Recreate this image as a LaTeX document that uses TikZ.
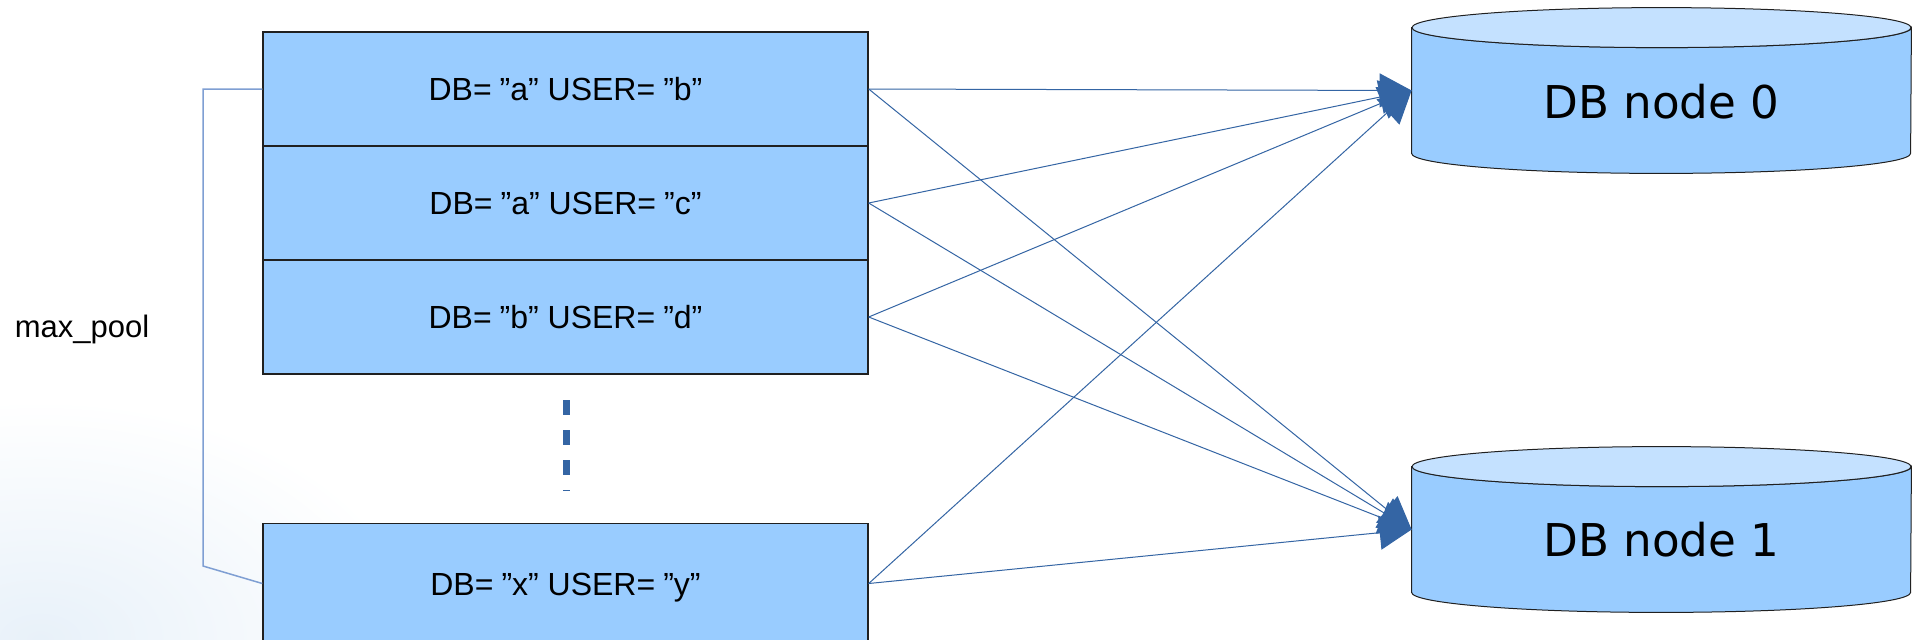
\documentclass[tikz,border=0pt]{standalone}
\usepackage{fontspec}
\setmainfont{Liberation Sans}
\newfontfamily\djv{DejaVu Sans}
\usetikzlibrary{arrows.meta}
\definecolor{boxfill}{HTML}{99CCFF}
\definecolor{topfill}{HTML}{C4E1FF}
\definecolor{linkc}{HTML}{3465A4}
\definecolor{bracketc}{HTML}{7F9FD3}
\definecolor{edgec}{HTML}{202020}
\definecolor{bgc}{HTML}{E8F1F9}
\newcommand\dbcylinder[1]{%
  \path[fill=boxfill, draw=edgec, line width=0.5pt] (#1.north west) -- (#1.south west)
    arc[start angle=180, end angle=360, x radius=124.75pt, y radius=10pt] -- (#1.north east)
    arc[start angle=0, end angle=-180, x radius=124.75pt, y radius=10pt] -- cycle;
  \path[fill=topfill, draw=edgec, line width=0.5pt] (#1.north) ellipse[x radius=124.75pt, y radius=10pt];
}
\begin{document}
\begin{tikzpicture}[x=0.5pt,y=-0.5pt,
  poolbox/.style={draw=edgec, line width=0.7pt, fill=boxfill, minimum width=302.5pt,
    minimum height=57pt, inner sep=0pt, font=\fontsize{16}{19}\selectfont,
    text height=11.5pt, text depth=0pt},
  dbbody/.style={minimum width=249.5pt, minimum height=62.5pt, inner sep=0pt},
  dblabel/.style={inner sep=0pt, font=\djv\fontsize{22.6}{27}\selectfont,
    text height=16.5pt, text depth=0pt},
  link/.style={draw=linkc, line width=0.5pt, -{Triangle[length=16pt,width=17pt]}},
  bracketline/.style={draw=bracketc, line width=0.75pt},
  dashline/.style={draw=linkc, line width=3.5pt, dash pattern=on 7.25pt off 7.75pt},
  note/.style={inner sep=0pt, font=\fontsize{15.5}{18}\selectfont}
]
\useasboundingbox (0,0) rectangle (1917,639);
\fill[white] (0,0) rectangle (1917,639);
\begin{scope}
  \clip (0,0) rectangle (1917,639);
  \shade[inner color=bgc, outer color=white] (40,639) ellipse[x radius=190pt, y radius=120pt];
\end{scope}

% pool entries
\node[poolbox] (box1) at (565.5,89) {DB=\hspace{0.25em}”a” USER=\hspace{0.25em}”b”};
\node[poolbox] (box2) at (565.5,203) {DB=\hspace{0.25em}”a” USER=\hspace{0.25em}”c”};
\node[poolbox] (box3) at (565.5,317) {DB=\hspace{0.25em}”b” USER=\hspace{0.25em}”d”};
\node[poolbox, minimum height=60pt] (box4) at (565.5,583.5) {DB=\hspace{0.25em}”x” USER=\hspace{0.25em}”y”};

% continuation dashes
\coordinate (dta) at (566,400);
\coordinate (dtb) at (566,491);
\draw[dashline] (dta) -- (dtb);

% max_pool bracket
\node[note, anchor=base] (mp) at (82,337) {max\_pool};
\coordinate (bra) at (203,89);
\coordinate (brb) at (203,566);
\draw[bracketline] (box1.west) -- (bra) -- (brb) -- (box4.west);

% DB nodes
\node[dbbody] (db0) at (1661.5,90.5) {};
\node[dbbody] (db1) at (1661.5,529.5) {};
\dbcylinder{db0}
\dbcylinder{db1}
\node[dblabel] (db0t) at ([yshift=-5.5pt]db0.center) {DB node 0};
\node[dblabel] (db1t) at ([yshift=-5pt]db1.center) {DB node 1};

% connectors
\draw[link] (box1.east) -- (db0.west);
\draw[link] (box2.east) -- (db0.west);
\draw[link] (box3.east) -- (db0.west);
\draw[link] (box4.east) -- (db0.west);
\draw[link] (box1.east) -- (db1.west);
\draw[link] (box2.east) -- (db1.west);
\draw[link] (box3.east) -- (db1.west);
\draw[link] (box4.east) -- (db1.west);
\end{tikzpicture}
\end{document}
